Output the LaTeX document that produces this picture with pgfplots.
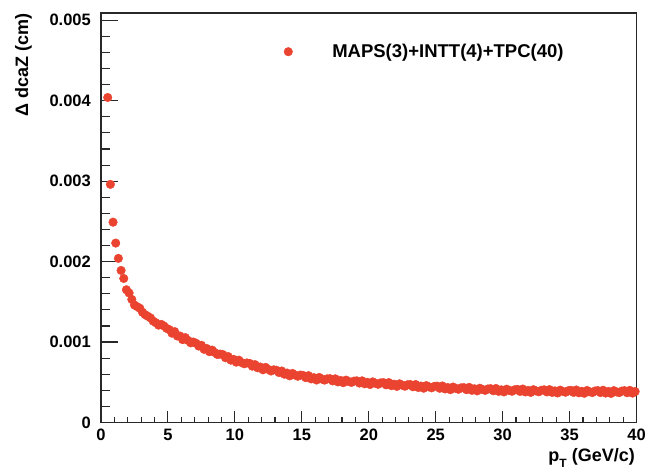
\documentclass[border=0pt]{standalone}
\usepackage{fontspec}
\setmainfont{Liberation Sans}
\usepackage{pgfplots}
\usepackage{pgfplotstable}
\pgfplotsset{compat=1.18}
\definecolor{rootred}{RGB}{234,67,47}
\definecolor{axgray}{RGB}{40,40,40}
\pgfplotsset{dotlegend/.style={legend image code/.code={\draw[##1] plot coordinates {(0pt,0pt)}; \path[draw=none,fill=none] (-4pt,-3pt) rectangle (44pt,3pt);}}}
\pgfplotstableread{
pt d
0.5 4.04
0.7 2.96
0.9 2.49
1.1 2.23
1.3 2.04
1.5 1.89
1.7 1.79
1.9 1.65
2.1 1.61
2.3 1.53
2.5 1.46
2.7 1.44
2.9 1.42
3.1 1.37
3.3 1.34
3.5 1.32
3.7 1.30
3.9 1.26
4.1 1.24
4.3 1.21
4.5 1.22
4.7 1.20
4.9 1.17
5.1 1.155
5.3 1.110
5.5 1.130
5.7 1.075
5.9 1.075
6.1 1.030
6.3 1.055
6.5 1.020
6.7 0.990
6.9 1.000
7.1 0.985
7.3 0.950
7.5 0.960
7.7 0.910
7.9 0.920
8.1 0.880
8.3 0.900
8.5 0.870
8.7 0.845
8.9 0.850
9.1 0.845
9.3 0.805
9.5 0.820
9.7 0.775
9.9 0.785
10.1 0.750
10.3 0.775
10.5 0.745
10.7 0.730
10.9 0.740
11.1 0.735
11.3 0.700
11.5 0.720
11.7 0.680
11.9 0.690
12.1 0.655
12.3 0.685
12.5 0.660
12.7 0.640
12.9 0.655
13.1 0.650
13.3 0.620
13.5 0.640
13.7 0.600
13.9 0.615
14.1 0.580
14.3 0.610
14.5 0.590
14.7 0.575
14.9 0.590
15.1 0.585
15.3 0.557
15.5 0.582
15.7 0.542
15.9 0.557
16.1 0.528
16.3 0.560
16.5 0.540
16.7 0.527
16.9 0.543
17.1 0.545
17.3 0.517
17.5 0.543
17.7 0.505
17.9 0.523
18.1 0.495
18.3 0.527
18.5 0.510
18.7 0.498
18.9 0.515
19.1 0.518
19.3 0.490
19.5 0.518
19.7 0.481
19.9 0.499
20.1 0.472
20.3 0.505
20.5 0.488
20.7 0.475
20.9 0.493
21.1 0.496
21.3 0.468
21.5 0.496
21.7 0.458
21.9 0.476
22.1 0.449
22.3 0.481
22.5 0.464
22.7 0.451
22.9 0.469
23.1 0.472
23.3 0.444
23.5 0.472
23.7 0.435
23.9 0.453
24.1 0.426
24.3 0.459
24.5 0.443
24.7 0.431
24.9 0.449
25.1 0.452
25.3 0.425
25.5 0.454
25.7 0.417
25.9 0.435
26.1 0.408
26.3 0.441
26.5 0.425
26.7 0.413
26.9 0.431
27.1 0.434
27.3 0.408
27.5 0.437
27.7 0.400
27.9 0.419
28.1 0.393
28.3 0.426
28.5 0.410
28.7 0.399
28.9 0.417
29.1 0.421
29.3 0.395
29.5 0.423
29.7 0.387
29.9 0.406
30.1 0.380
30.3 0.414
30.5 0.399
30.7 0.388
30.9 0.407
31.1 0.412
31.3 0.386
31.5 0.416
31.7 0.380
31.9 0.399
32.1 0.374
32.3 0.408
32.5 0.392
32.7 0.382
32.9 0.401
33.1 0.406
33.3 0.380
33.5 0.409
33.7 0.374
33.9 0.393
34.1 0.367
34.3 0.402
34.5 0.386
34.7 0.376
34.9 0.395
35.1 0.400
35.3 0.374
35.5 0.404
35.7 0.369
35.9 0.388
36.1 0.363
36.3 0.398
36.5 0.382
36.7 0.372
36.9 0.392
37.1 0.397
37.3 0.372
37.5 0.401
37.7 0.366
37.9 0.386
38.1 0.361
38.3 0.396
38.5 0.381
38.7 0.371
38.9 0.391
39.1 0.396
39.3 0.370
39.5 0.400
39.7 0.365
39.9 0.385
}\dcaz
\begin{document}
\begin{tikzpicture}[x=1pt,y=1pt]
\path[use as bounding box] (0,0) rectangle (647,469);
\begin{axis}[
  at={(101pt,46.5pt)}, anchor=south west,
  width=535.5pt, height=409.5pt, scale only axis,
  xmin=0, xmax=40, ymin=0, ymax=5.09,
  xtick={0,5,10,15,20,25,30,35,40},
  xticklabels={0,5,10,15,20,25,30,35,40},
  ytick={0,1,2,3,4,5},
  yticklabels={0,0.001,0.002,0.003,0.004,0.005},
  minor x tick num=4, minor y tick num=4,
  xtick pos=bottom, ytick pos=left, tick align=inside,
  axis line style={line width=1.1pt, axgray},
  every tick/.style={line width=1.1pt, axgray},
  xtick style={/pgfplots/major tick length=12pt, /pgfplots/minor tick length=6pt},
  ytick style={/pgfplots/major tick length=17pt, /pgfplots/minor tick length=9pt},
  xticklabel style={font=\bfseries\fontsize{16.5}{16.5}\selectfont, anchor=north, inner sep=0pt, yshift=-6pt},
  yticklabel style={font=\bfseries\fontsize{16.5}{16.5}\selectfont, anchor=east, inner sep=0pt, xshift=-10pt},
  legend style={draw=none, fill=none, at={(axis description cs:0.3417,0.9055)}, anchor=west,
    inner sep=0pt, outer sep=0pt, font=\bfseries\fontsize{18.5}{18.5}\selectfont,
    nodes={inner sep=0pt}, /tikz/every even column/.append style={column sep=0pt}},
]
\addplot[only marks, mark=*, mark size=4.3pt, color=rootred,
  mark options={draw=rootred, fill=rootred}, dotlegend]
  table[x=pt, y=d] {\dcaz};
\addlegendentry{MAPS(3)+INTT(4)+TPC(40)}
\end{axis}
\node[rotate=90, anchor=base east, inner sep=0pt, font=\bfseries\fontsize{18}{18}\selectfont] at (28,456) {Δ dcaZ (cm)};
\node[anchor=base east, inner sep=0pt, font=\bfseries\fontsize{18}{18}\selectfont] at (635,8) {p\raisebox{-0.35em}{\fontsize{12}{12}\selectfont T} (GeV/c)};
\end{tikzpicture}
\end{document}
